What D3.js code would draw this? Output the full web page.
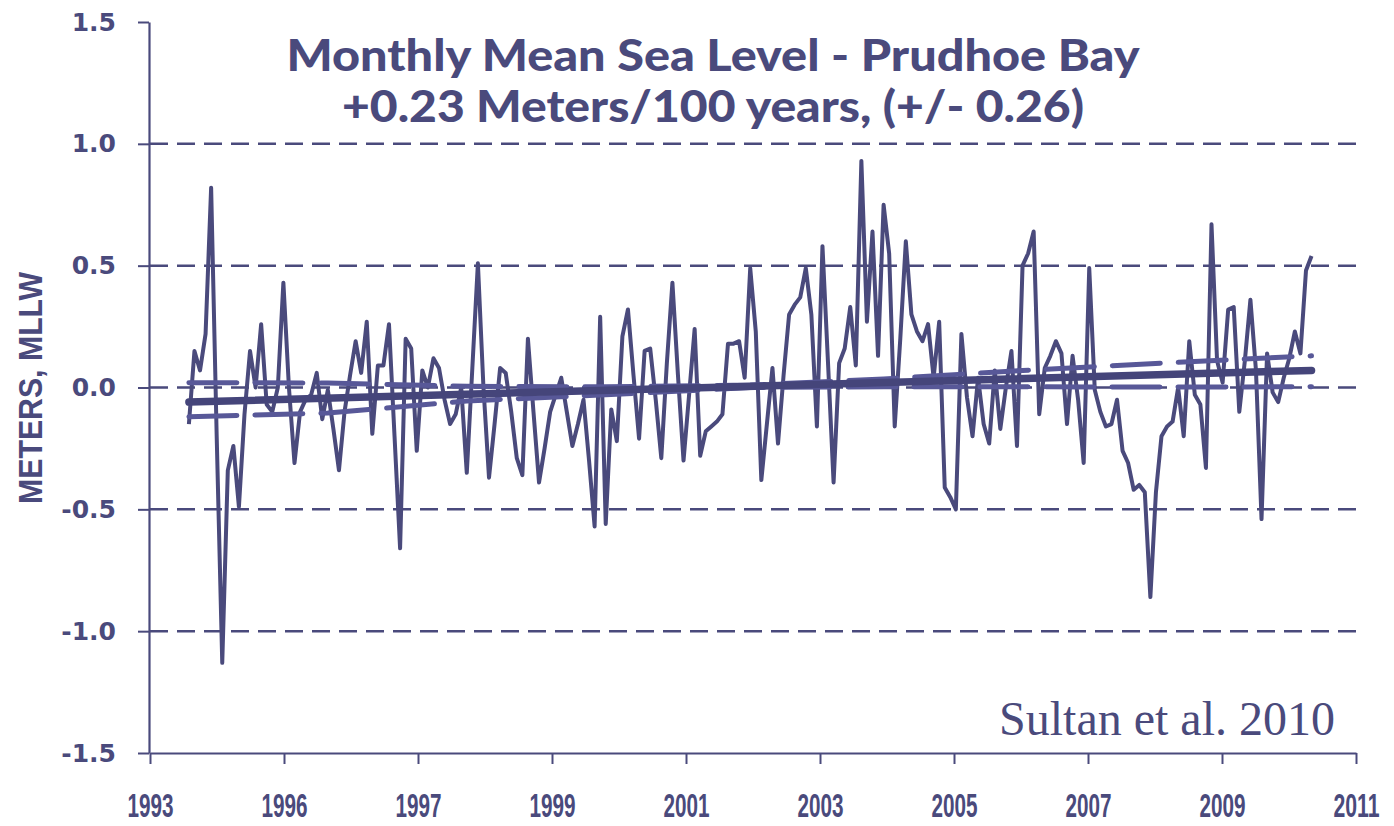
<!DOCTYPE html>
<html><head><meta charset="utf-8">
<script src="https://cdn.jsdelivr.net/npm/d3@7"></script>
<style>body{margin:0;background:#fff}</style></head>
<body><svg id="c" width="1394" height="826"></svg>
<script>
// ---- data ----
const xTickLabels = ["1993","1996","1997","1999","2001","2003","2005","2007","2009","2011"];
const monthsPerTick = 24;
const firstMonth = 7; // month offset of first observation from axis origin
const seaLevel = [
 -0.15,0.15,0.07,0.22,0.82,-0.2,-1.13,-0.34,-0.24,-0.49,
 -0.11,0.15,0.0,0.26,-0.07,-0.1,0.0,0.43,0.0,-0.31,
 -0.1,-0.05,-0.03,0.06,-0.13,-0.01,-0.17,-0.34,-0.1,0.05,
 0.19,0.06,0.27,-0.19,0.09,0.09,0.26,-0.2,-0.66,0.2,
 0.16,-0.26,0.07,0.0,0.12,0.08,-0.05,-0.15,-0.11,0.0,
 -0.35,0.08,0.51,0.0,-0.37,-0.15,0.08,0.06,-0.1,-0.29,
 -0.36,0.2,-0.1,-0.39,-0.25,-0.1,-0.03,0.04,-0.1,-0.24,
 -0.15,-0.05,-0.3,-0.57,0.29,-0.56,-0.09,-0.22,0.21,0.32,
 0.05,-0.21,0.15,0.16,-0.05,-0.29,0.1,0.43,0.05,-0.3,
 -0.03,0.24,-0.28,-0.18,-0.16,-0.14,-0.11,0.18,0.18,0.19,
 0.04,0.49,0.23,-0.38,-0.15,0.08,-0.23,0.05,0.3,0.34,
 0.37,0.49,0.3,-0.16,0.58,0.1,-0.39,0.1,0.16,0.33,
 0.09,0.93,0.27,0.64,0.13,0.75,0.55,-0.16,0.2,0.6,
 0.3,0.23,0.19,0.26,0.04,0.27,-0.41,-0.45,-0.5,0.22,
 -0.04,-0.2,0.04,-0.15,-0.23,0.07,-0.17,0.0,0.15,-0.24,
 0.5,0.55,0.64,-0.11,0.08,0.13,0.19,0.14,-0.15,0.13,
 -0.05,-0.31,0.49,-0.01,-0.1,-0.16,-0.15,-0.05,-0.26,-0.31,
 -0.42,-0.4,-0.43,-0.86,-0.43,-0.2,-0.16,-0.14,0.0,-0.2,
 0.19,-0.03,-0.07,-0.33,0.67,0.11,0.02,0.32,0.33,-0.1,
 0.11,0.36,0.07,-0.54,0.14,-0.02,-0.06,0.04,0.12,0.23,
 0.14,0.48,0.54
];
const trendMonths = [0, 202];
const trendValues = [-0.06, 0.07];
const bandMonths = [0, 25, 50, 75, 101, 125, 150, 175, 202];
const upperBand = [0.02, 0.018, 0.005, 0.003, 0.01, 0.035, 0.07, 0.1, 0.13];
const lowerBand = [-0.12, -0.105, -0.055, -0.03, 0.0, 0.003, 0.003, 0.002, 0.003];
const yTickValues = [-1.5, -1.0, -0.5, 0.0, 0.5, 1.0, 1.5];
const gridValues = [-1.0, -0.5, 0.0, 0.5, 1.0];
const titleLines = ["Monthly Mean Sea Level - Prudhoe Bay", "+0.23 Meters/100 years, (+/- 0.26)"];
const yTitle = "METERS, MLLW";
const credit = "Sultan et al. 2010";

// ---- drawing ----
const ink = "#4a4a7c";
const svg = d3.select("#c");
const x = d3.scaleLinear().domain([0, monthsPerTick * (xTickLabels.length - 1) + 1]).range([150, 1356]);
const y = d3.scaleLinear().domain([-1.5, 1.5]).range([753, 22]);

// grid
svg.append("g").selectAll("line").data(gridValues).join("line")
  .attr("x1", 150).attr("x2", 1356)
  .attr("y1", d => y(d)).attr("y2", d => y(d))
  .attr("stroke", ink).attr("stroke-width", 2.5).attr("stroke-dasharray", "18,9");

// y axis
const yAxis = svg.append("g").attr("transform", "translate(149,0)")
  .call(d3.axisLeft(y).tickValues(yTickValues).tickSize(11).tickSizeOuter(0).tickPadding(22)
    .tickFormat(d => d.toFixed(1)));
yAxis.select(".domain").attr("stroke", ink).attr("stroke-width", 2.2);
yAxis.selectAll(".tick line").attr("stroke", ink).attr("stroke-width", 2);
yAxis.selectAll(".tick text").attr("fill", ink)
  .style("font-family", "DejaVu Sans").style("font-weight", "bold").style("font-size", "25px");

// x axis (evenly spaced category-like labels)
const xTicks = d3.range(xTickLabels.length).map(i => i * (monthsPerTick * (xTickLabels.length - 1) + 1) / (xTickLabels.length - 1));
const xAxis = svg.append("g").attr("transform", "translate(0,753)")
  .call(d3.axisBottom(x).tickValues(xTicks).tickSize(11).tickSizeOuter(0).tickPadding(0)
    .tickFormat((d, i) => xTickLabels[i]));
xAxis.select(".domain").attr("stroke", ink).attr("stroke-width", 2.2);
xAxis.selectAll(".tick line").attr("stroke", ink).attr("stroke-width", 2);
xAxis.selectAll(".tick text").attr("fill", ink).attr("y", 64).attr("dy", null)
  .attr("textLength", 46).attr("lengthAdjust", "spacingAndGlyphs")
  .style("font-family", "Liberation Sans").style("font-weight", "bold").style("font-size", "34px");

// data line
const line = d3.line().x(d => x(d[0])).y(d => y(d[1]));
svg.append("path")
  .datum(seaLevel.map((v, i) => [firstMonth + i, v]))
  .attr("d", line).attr("fill", "none").attr("stroke", ink)
  .attr("stroke-width", 4).attr("stroke-linejoin", "round");

// confidence bands
[upperBand, lowerBand].forEach(b => {
  svg.append("path")
    .datum(bandMonths.map((m, i) => [firstMonth + m, b[i]]))
    .attr("d", line).attr("fill", "none").attr("stroke", "#585898")
    .attr("stroke-width", 5).attr("stroke-linecap", "round")
    .attr("stroke-dasharray", "48,18");
});
// trend
svg.append("path")
  .datum(trendMonths.map((m, i) => [firstMonth + m, trendValues[i]]))
  .attr("d", line).attr("fill", "none").attr("stroke", "#45457a")
  .attr("stroke-width", 7.5).attr("stroke-linecap", "round");

// title
const tw = [853, 742];
titleLines.forEach((t, i) => {
  svg.append("text").attr("x", 713).attr("y", 71 + i * 51).attr("text-anchor", "middle")
    .attr("textLength", tw[i]).attr("lengthAdjust", "spacingAndGlyphs")
    .attr("fill", ink).style("font-family", "Lato").style("font-weight", "900").style("font-size", "43px")
    .text(t);
});

// y title
svg.append("text").attr("transform", "translate(42,388) rotate(-90)").attr("text-anchor", "middle")
  .attr("textLength", 232).attr("lengthAdjust", "spacingAndGlyphs")
  .attr("fill", ink).style("font-family", "Liberation Sans").style("font-weight", "bold").style("font-size", "33px")
  .text(yTitle);

// credit
svg.append("text").attr("x", 1335).attr("y", 735).attr("text-anchor", "end")
  .attr("fill", ink).style("font-family", "Liberation Serif").style("font-size", "48px")
  .text(credit);
</script></body></html>
